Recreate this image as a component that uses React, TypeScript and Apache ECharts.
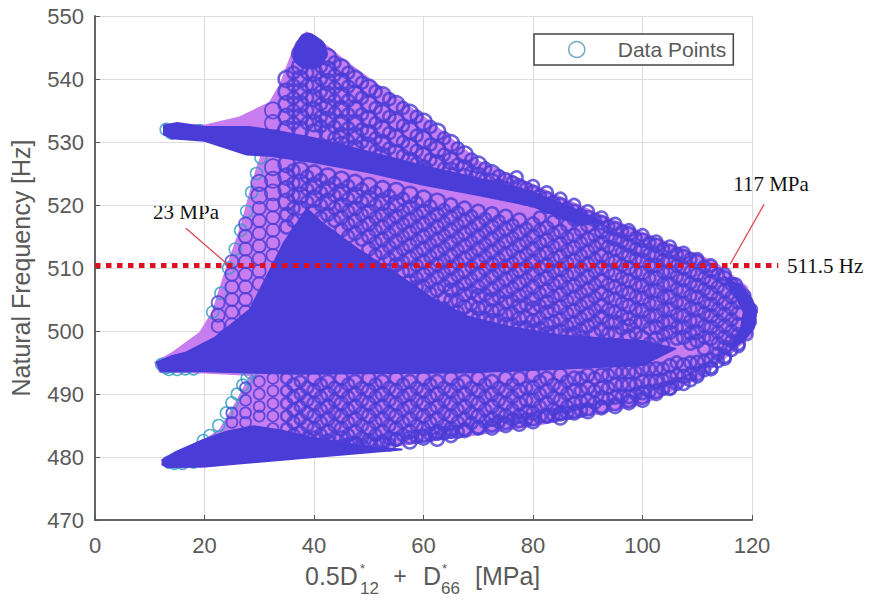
import React, { useEffect, useRef } from "react";
import * as echarts from "echarts";

const xTicks = [0, 20, 40, 60, 80, 100, 120];
const frequencyLevel = 510.4;

const envelope = [[12.7,532.8],[20,532.6],[26.4,533.9],[31.9,536.2],[33.8,539],[36.8,545.8],[38.6,547.4],[41.7,545.6],[46,542.6],[52,538.8],[60,534],[70.3,526.8],[80,523.2],[90,519.3],[100,515.6],[113,511],[119,507],[120.8,503],[120,499.5],[116,496.4],[110,492.4],[100,488.4],[90,486.6],[80,485],[70,483.6],[60,482.4],[50,481.2],[40,480.2],[30,479.4],[20,478.5],[13.3,478.3],[12.2,479.5],[14.8,480.4],[19.7,482.4],[22.8,484.3],[25.8,488.6],[27.7,491.8],[28.5,493],[20,493.4],[11.9,493.5],[11,495],[14.3,496.6],[19.2,499.7],[21.5,503],[23.7,509],[26.5,516],[29.5,525.6],[30.5,528],[20,530.4],[13,531]];

const topBand = [[12.6,532.6],[15,533],[20,532.4],[28,532.4],[33,531.8],[40,530.6],[50,528.4],[60,526.2],[70,524.2],[80,522],[88,519.2],[93,517.2],[88,517],[80,519.8],[70,521.6],[60,523.2],[50,525.2],[40,526.8],[32,527.8],[27.7,528],[20,530.2],[14,530.6],[12.6,531.2]];
const apexCap = [[36.4,544],[37.4,546.4],[38.8,547.2],[40.4,546.6],[42,545.2],[41.6,542.8],[39,541.8],[37,542.4]];
const midWedge = [[11.3,495],[14,496],[16.7,496.6],[22,499],[28.3,503.4],[32,509.7],[34.5,514],[38.7,519.4],[41.7,517],[48,513],[56,508.5],[62,505],[68,502.3],[76,500.6],[85,499.3],[100,498.4],[106,497.2],[100,494.6],[85,494],[68,493.4],[37,493.2],[20,493.6],[12,493.6]];
const lowWedge = [[12.4,479.6],[14.8,480.8],[20,482.8],[24,484],[29,484.9],[34,484.2],[40,483],[50,481.6],[56,481.2],[40,480],[20,478.5],[13.3,478.4],[12.3,478.8]];
const rightCap = [[115,508.6],[118,507],[120,505],[120.8,503],[120.3,500.4],[118.5,498.5],[116,497],[118,500.5],[118.5,503],[117,505.5]];

const rimX = [13,14,15.5,17,19,13,12.2,13.5,15,16.5,18,13.5,14.5,16,18,20,21.5,23,24.4,25.6,26.6,27.7,28.6,29.5,30.3,31,19.8,21,22.6,24,25,26,27,27.8,28.4];
const rimY = [532,531.4,531.4,531.7,531.8,494.2,494.7,493.9,493.9,494,494,479.2,479,479,479.2,481.8,503,506,510,513,516,519,522,525,527.5,529.6,482.6,483.4,485,487,488.6,490,491.4,492.5,493.4];

const keelX = [37.5,40,42.5,45,47.5,50,52.5,55,57.5,60,62.5,65,67.5,70,72.5,75,77.5,80,82.5,85,87.5,90,92.5,95,97.5,100,102.5,105,107.5,110,112.5,115,117.5,119,119.6];
const keelY = [481,481.2,481.4,481.7,482,482.2,482.5,482.8,483.1,483.4,483.7,484,484.4,484.7,485,485.4,485.7,486,486.4,486.8,487.2,487.6,488,488.4,488.9,489.4,490,490.8,491.6,492.8,494.2,495.6,497.6,499.5,501.5];
const crestX = [77,80,82.5,85,87.5,90,92.5,95,97.5,100,102.5,105,107.5,110,112.5,115,117,118.6,119.8];
const crestY = [524.4,523,522,521,520,519,518,517,516,515.2,514.2,513.4,512.4,511.4,510.4,509,507.4,505.6,503.4];

const columnX = [22.5,25,27.5,30,32.5,35,37.5,40,42.5,45,47.5,50,52.5,55,57.5,60,62.5,65,67.5,70,72.5,75,77.5,80,82.5,85,87.5,90,92.5,95,97.5,100,102.5,105,107.5,110,112.5,115,117.5];
const columnFreq = [
  [504.5,502.5,500.8],
  [511,509,507,505,503,501,487,485.5],
  [517,515,513,511,509,507,505,503,491,489,487,485.5],
  [523.5,521.5,519.5,517.5,515.5,513.5,511.5,509.5,507.5,492,490,488,486.5],
  [535,533,526,524,522,520,518,516,514,512,492.5,490.5,488.5,486.5,484.5],
  [540,538,536,534,532,526.5,524.5,522.5,520.5,518.5,516.5,492.5,490.5,488.5,486.5,484.5,483],
  [544,542,540,538,536,534,532,525.5,523.5,521.5,519.5,492,490,488,486,484,482.5],
  [545,543,541,539,537,535,533,531.5,525,523,521,519,492.5,490.5,488.5,486.5,484.5,483],
  [543.5,541.5,539.5,537.5,535.5,533.5,531.5,524.5,522.5,520.5,518.5,492,490,488,486,484,482.5],
  [541.8,539.6,537.4,535.2,533,531,529.5,524,522,520,518,516,492.5,490.5,488.5,486.5,484.5,483],
  [540,537.6,535.2,533,531,529,523.5,521.5,519.5,517.5,515.5,492,490,488,486,484,482.2],
  [538.6,536,533.6,531.4,529.4,523,521,519,517,515,513,492.5,490.5,488.5,486.5,484.5,482.6],
  [537.4,534.6,532,529.8,527.8,522.5,520.5,518.5,516.5,514.5,512.5,492,490,488,486,484,482.2],
  [536,533.2,530.6,528.2,522.2,520.2,518.2,516.2,514.2,512.2,510.5,492.5,490.5,488.5,486.5,484.5,482.8],
  [534.6,531.8,529.2,527,521.6,519.6,517.6,515.6,513.6,511.6,509.6,507.8,492,490,488,486,484,482.4],
  [533.2,530.4,527.8,525.8,521,519,517,515,513,511,509,507,492.5,490.5,488.5,486.5,484.5,483],
  [531.6,528.8,526.6,520.5,518.5,516.5,514.5,512.5,510.5,508.5,506.5,492,490,488,486,484,482.8],
  [529.8,527,525.4,520,518,516,514,512,510,508,506.5,504.8,492.5,490.5,488.5,486.5,484.5,483.4],
  [528,525.8,524.4,519.5,517.5,515.5,513.5,511.5,509.5,507.5,505.8,503.8,492,490,488,486,484.2],
  [526.4,524.6,519,517,515,513,511,509,507,505.6,503.6,502,492.5,490.5,488.5,486.5,484.6],
  [525,523.6,518.6,516.6,514.6,512.6,510.6,508.6,506.6,505,503.2,501.6,492,490,488,486,484.6],
  [524,522.6,518.2,516.2,514.2,512.2,510.2,508.2,506.2,504.6,502.6,501,492.5,490.5,488.5,486.5,485],
  [523,521.6,517.6,515.6,513.6,511.6,509.6,507.6,505.6,504,502,500.4,492.5,490.5,488.5,486.5,485.2],
  [522,520.8,517,515,513,511,509,507,505,503.6,501.6,500,493,491,489,487,485.6],
  [521,519.8,516.4,514.4,512.4,510.4,508.4,506.4,504.6,503,501,499.6,492.5,490.5,488.5,486.6],
  [520,518.8,515.8,513.8,511.8,509.8,507.8,505.8,503.8,501.8,500,493,491,489,487,486.2],
  [519,517.8,515.2,513.2,511.2,509.2,507.2,505.2,503.2,501.2,499.6,492.5,490.5,488.5,487],
  [518,516.8,514.6,512.6,510.6,508.6,506.6,504.6,502.6,500.8,493,491,489,487.2],
  [517.2,515.8,514,512,510,508,506,504,502.2,500.2,493,491,489.4,487.8],
  [516.2,514.6,513,511,509,507,505,503,501.4,499.6,493.5,491.5,489.5,488],
  [515.4,513.6,512,510,508,506,504,502,500.8,499.2,493.5,491.5,489.6,488.6],
  [514.4,512.8,511.2,509.2,507.2,505.2,503.2,501.4,499,494,492,490.2,489],
  [513.6,512,510.4,508.4,506.4,504.4,502.4,500.6,498.8,494,492,490.4],
  [512.6,511,509.4,507.4,505.4,503.4,501.4,499.8,494.5,492.6,491],
  [511.8,510,508.2,506.4,504.4,502.4,500.6,499,494.6,492.8],
  [511,509,507.2,505.4,503.4,501.6,499.8,498.4,495,493.2],
  [509.6,507.8,506,504.2,502.4,500.6,498.8,495.4,494],
  [508.4,506.4,504.4,502.6,500.8,499,497.4,496],
  [506.4,504.6,502.8,501,499.4,498],
];

const infillX = [36.25,38.75,41.25,43.75,46.25,48.75,51.25,53.75,56.25,58.75,61.25,63.75,66.25,68.75,71.25,73.75,76.25,78.75,81.25,83.75,86.25,88.75,91.25,93.75,96.25,98.75,101.25,103.75,106.25,108.75,111.25,113.75,116.25];
const infillFreq = [
  [541,539,537,535,533,525.5,523.5,521.5,519.5,517.5,491.5,489.5,487.5,485.5,483.5],
  [543,541,539,537,535,533,524.5,522.5,520.5,491,489,487,485,483],
  [544,542,540,538,536,534,532.5,524,522,520,518,491.5,489.5,487.5,485.5,483.5,481.8],
  [542.6,540.6,538.6,536.6,534.6,532.4,530.6,523.5,521.5,519.5,517.5,491,489,487,485,483,481.6],
  [541,538.8,536.6,534.4,532.2,530.2,523,521,519,517,515,491.5,489.5,487.5,485.5,483.5,482],
  [539.4,537,534.4,532,530,522.5,520.5,518.5,516.5,514.5,491,489,487,485,483,481.8],
  [538,535.4,533,530.6,528.6,522,520,518,516,514,512,491.5,489.5,487.5,485.5,483.5,482],
  [536.8,534,531.4,529,521.4,519.4,517.4,515.4,513.4,511.4,509.6,491,489,487,485,483,482],
  [535.4,532.6,530,527.8,521,519,517,515,513,511,509.4,491.5,489.5,487.5,485.5,483.5],
  [534,531,528.6,526.6,520.4,518.4,516.4,514.4,512.4,510.4,508.4,507,491,489,487,485,483.2],
  [532.4,529.6,527.2,519.8,517.8,515.8,513.8,511.8,509.8,507.8,506,491.5,489.5,487.5,485.5,483.6],
  [530.6,528,525.8,519.2,517.2,515.2,513.2,511.2,509.2,507.2,505.2,503.6,491,489,487,485,483.8],
  [529,526.4,518.8,516.8,514.8,512.8,510.8,508.8,506.8,504.8,503,491.5,489.5,487.5,485.5,484],
  [527.2,525.2,518.2,516.2,514.2,512.2,510.2,508.2,506.2,504.2,502.4,491,489,487,485.4],
  [525.8,524,517.8,515.8,513.8,511.8,509.8,507.8,505.8,503.8,502,491.5,489.5,487.5,485.6],
  [524.6,523,517.4,515.4,513.4,511.4,509.4,507.4,505.4,503.4,501.6,491,489,487,485.6],
  [523.6,522,516.8,514.8,512.8,510.8,508.8,506.8,504.8,502.8,501,491.5,489.5,487.5,486],
  [522.6,521,516.2,514.2,512.2,510.2,508.2,506.2,504.2,502.2,500.6,491,489,487.2,486],
  [521.4,518,516,514,512,510,508,506,504,502,500.4,492,490,488,486.4],
  [520.4,517.4,515.4,513.4,511.4,509.4,507.4,505.4,503.4,501.4,499.8,491.5,489.5,487.6,486.6],
  [519.4,516.8,514.8,512.8,510.8,508.8,506.8,504.8,502.8,500.8,499.4,492,490,488,487],
  [518.4,516,514,512,510,508,506,504,502,500.2,499,492.5,490.5,488.8,487.4],
  [517.6,515.2,513.4,511.4,509.4,507.4,505.4,503.4,501.4,499.6,492.5,490.5,488.6],
  [516.6,515,513.4,511.4,509.4,507.4,505.4,503.4,501.4,499.6,493,491,489.2],
  [515.8,514.2,512.4,510.4,508.4,506.4,504.4,502.4,500.4,493.5,491.5,489.6],
  [514.8,513,511.4,509.4,507.4,505.4,503.4,501.4,499.6,493.5,491.5,490],
  [514,512.2,510.4,508.4,506.4,504.4,502.4,500.4,498,494,492,490.4],
  [513,511.2,509.4,507.4,505.4,503.4,501.4,499.4,497.8,494,492.2,490.8],
  [512.2,510.4,508.6,506.6,504.6,502.6,500.6,498.8,495,493,491.6],
  [511.4,509.4,507.6,505.6,503.6,501.6,499.6,498,495,493.2,492.2],
  [510.2,508.4,506.6,504.6,502.8,500.8,499,497.2,495.2,493.8],
  [509,507,505.2,503.4,501.6,499.8,498,496.4,495.2],
  [507.4,505.4,503.6,501.8,500,498.4,497],
];

const ringColor = "#4a3cd6";
const purple = "#c77df0";
const tealColor = "#2f9cc4";

function lattice(xs: number[], cols: number[][]) {
  const out: any[] = [];
  xs.forEach((x, i) =>
    cols[i].forEach((y) =>
      out.push(x < 35 ? { value: [x, y], itemStyle: { borderWidth: 1.8 } } : [x, y])
    )
  );
  return out;
}

function ringSize(v: number[]) {
  const [x, y] = v;
  if (y > 520 && x < 75) return 16;
  if (y > 505 && x < 35) return 13;
  if (y < 493 && x < 40) return 11;
  return 13;
}

function area(name: string, points: number[][], fill: string, z: number, smooth = 0) {
  return {
    type: "custom",
    name,
    z,
    silent: true,
    clip: false,
    data: points,
    encode: { x: 0, y: 1 },
    renderItem: (params: any, api: any) => {
      if (params.dataIndex !== 0) return null;
      return {
        type: "polygon",
        shape: { points: points.map((p) => api.coord(p)), smooth },
        style: { fill, stroke: fill, lineWidth: 2, lineJoin: "round" },
      };
    },
  };
}

function stroke(name: string, points: number[][], color: string, width: number, z: number, lineDash?: number[]) {
  return {
    type: "custom",
    name,
    z,
    silent: true,
    clip: false,
    data: points,
    encode: { x: 0, y: 1 },
    renderItem: (params: any, api: any) => {
      if (params.dataIndex !== 0) return null;
      const [a, b] = [api.coord(points[0]), api.coord(points[1])];
      return {
        type: "line",
        shape: { x1: a[0], y1: a[1], x2: b[0], y2: b[1] },
        style: { stroke: color, lineWidth: width, lineDash, fill: null },
      };
    },
  };
}

const serif = "'Liberation Serif', serif";
const sans = "'Liberation Sans', Arial, sans-serif";
const inkGrey = "#5a5a5a";

function label(text: string, x: number, y: number, fontSize: number, align = "left") {
  return {
    type: "text",
    x,
    y,
    silent: true,
    style: { text, fontFamily: sans, fontSize, fill: inkGrey, textAlign: align, textVerticalAlign: "middle" },
  };
}

function note(text: string, x: number, y: number, align = "center") {
  return {
    type: "text",
    x,
    y,
    silent: true,
    style: { text, fontFamily: serif, fontSize: 21, fill: "#111111", textAlign: align, textVerticalAlign: "middle" },
  };
}

export default function App() {
  const ref = useRef<HTMLDivElement>(null);
  useEffect(() => {
    const chart = echarts.init(ref.current!, undefined, { renderer: "svg", width: 872, height: 601 });
    chart.setOption({
      animation: false,
      backgroundColor: "#ffffff",
      grid: { left: 95, right: 120, top: 16, bottom: 81, outerBoundsMode: "none" },
      legend: {
        left: 534,
        top: 34,
        orient: "horizontal",
        padding: [5, 7, 5, 34],
        itemWidth: 16,
        itemHeight: 16,
        borderColor: "#444444",
        borderWidth: 1.5,
        backgroundColor: "#ffffff",
        selectedMode: false,
        textStyle: { fontFamily: sans, fontSize: 21, color: inkGrey, padding: [0, 0, 0, 28] },
        data: [{ name: "Data Points", icon: "circle", itemStyle: { color: "transparent", borderColor: "#4d93b5", borderWidth: 1.5 } }],
      },
      xAxis: {
        type: "value",
        min: 0,
        max: 120,
        interval: 20,
        axisLine: { show: true, onZero: false, lineStyle: { color: "#666666", width: 2 } },
        axisTick: { show: true, inside: true, length: 5, lineStyle: { color: "#555555" } },
        axisLabel: { fontFamily: sans, fontSize: 22, color: inkGrey, margin: 14, formatter: (v: number) => (xTicks.includes(v) ? String(v) : "") },
        splitLine: { show: true, lineStyle: { color: "#dddddd", width: 1 } },
      },
      yAxis: {
        type: "value",
        min: 470,
        max: 550,
        interval: 10,
        name: "Natural Frequency [Hz]",
        nameLocation: "middle",
        nameGap: 62,
        nameTextStyle: { fontFamily: sans, fontSize: 25, color: inkGrey },
        axisLine: { show: true, onZero: false, lineStyle: { color: "#666666", width: 2 } },
        axisTick: { show: true, inside: true, length: 5, lineStyle: { color: "#555555" } },
        axisLabel: { fontFamily: sans, fontSize: 22, color: inkGrey, margin: 11 },
        splitLine: { show: true, lineStyle: { color: "#dddddd", width: 1 } },
      },
      series: [
        area("envelope", envelope, purple, 2),
        {
          type: "scatter",
          name: "rim",
          z: 3,
          silent: true,
          data: rimX.map((x, i) => [x, rimY[i]]),
          symbol: "circle",
          symbolSize: 12,
          itemStyle: { color: "transparent", borderColor: tealColor, borderWidth: 1.6 },
        },
        {
          type: "scatter",
          name: "Data Points",
          z: 4,
          silent: true,
          data: lattice(columnX, columnFreq),
          symbol: "circle",
          symbolSize: ringSize,
          itemStyle: { color: "transparent", borderColor: ringColor, borderWidth: 2.6 },
        },
        {
          type: "scatter",
          name: "infill",
          z: 4,
          silent: true,
          data: lattice(infillX, infillFreq),
          symbol: "circle",
          symbolSize: 12,
          itemStyle: { color: "transparent", borderColor: ringColor, borderWidth: 2.6 },
        },
        {
          type: "scatter",
          name: "edge",
          z: 4,
          silent: true,
          data: [...keelX.map((x, i) => [x, keelY[i]]), ...crestX.map((x, i) => [x, crestY[i]])],
          symbol: "circle",
          symbolSize: 12,
          itemStyle: { color: "transparent", borderColor: ringColor, borderWidth: 2.6 },
        },
        area("top band", topBand, ringColor, 5),
        area("apex", apexCap, ringColor, 5, 0.5),
        area("mid wedge", midWedge, ringColor, 5),
        area("low wedge", lowWedge, ringColor, 5),
        area("right cap", rightCap, ringColor, 5),
        stroke("level", [[0, frequencyLevel], [124.8, frequencyLevel]], "#dd1122", 5, 7, [5.5, 5.5]),
        stroke("left note", [[16.6, 516.3], [24.2, 510.6]], "#e0434b", 1.2, 8),
        stroke("right note", [[122.2, 520.1], [116, 510.6]], "#e0434b", 1.2, 8),
      ],
      graphic: [
        note("23 MPa", 186, 212),
        note("117 MPa", 771, 184),
        note("511.5 Hz", 787, 266, "left"),
        label("0.5D", 305, 576, 25),
        label("*", 360, 568, 13),
        label("12", 360, 588, 17),
        label("+", 400, 576, 23, "center"),
        label("D", 423, 576, 25),
        label("*", 442, 568, 13),
        label("66", 441, 588, 17),
        label("[MPa]", 475, 576, 25),
      ],
    });
    return () => chart.dispose();
  }, []);
  return <div ref={ref} style={{ position: "fixed", left: 0, top: 0, width: 872, height: 601 }} />;
}
